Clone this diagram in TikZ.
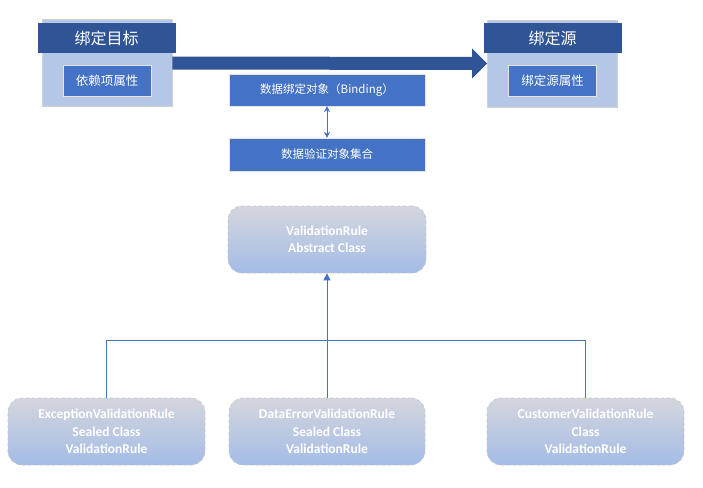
\documentclass[tikz,border=0pt]{standalone}
\usepackage{fontspec}
\setmainfont{Carlito}
\newfontfamily\cjk{Noto Sans CJK SC}
\usetikzlibrary{arrows.meta,positioning,calc}
\definecolor{hdrblue}{HTML}{2F5597}
\definecolor{boxblue}{HTML}{4472C4}
\definecolor{paleblue}{HTML}{B4C7E7}
\definecolor{rulegray}{HTML}{D4D6DD}
\definecolor{ruleblue}{HTML}{A4BCE7}

\begin{document}
\begin{tikzpicture}[x=1pt,y=-1pt,
  outer/.style={draw=black!18,line width=0.8pt,fill=paleblue,inner sep=0pt,
                minimum width=130pt,minimum height=87pt},
  hdr/.style={fill=hdrblue,text=white,inner sep=0pt,
              font=\cjk\fontsize{16}{18}\selectfont,
              minimum width=138pt,minimum height=30pt},
  inbox/.style={fill=boxblue,draw=black!10,text=white,inner sep=0pt,
                font=\cjk\fontsize{12.5}{14}\selectfont,
                minimum width=88pt,minimum height=31pt},
  objbox/.style={fill=boxblue,draw=black!10,text=white,inner sep=0pt,
                 font=\cjk\fontsize{11.5}{14}\selectfont,
                 minimum width=196pt,minimum height=32pt},
  rule/.style={draw=black!22,dashed,line width=0.7pt,rounded corners=14pt,
               top color=rulegray,bottom color=ruleblue,text=white,
               font=\bfseries\fontsize{13.5}{17.5}\selectfont,align=center,
               inner sep=0pt,minimum width=197pt,minimum height=67pt},
  conn/.style={draw=boxblue,line width=1pt},
  bigarrow/.style={hdrblue,line width=13pt,
                   -{Triangle[length=15pt,width=29pt]}}]
\useasboundingbox (0,0) rectangle (703,487);

% binding target and source
\node[outer] (tgt) at (107,63) {};
\node[hdr]   (tgthdr) at (106.5,38) {绑定目标};
\node[inbox] (tgtprop) at (107,80.5) {依赖项属性};
\node[outer] (src) at (552.5,63.5) {};
\node[hdr]   (srchdr) at (552.5,38) {绑定源};
\node[inbox] (srcprop) at (552.5,80.5) {绑定源属性};
\draw[bigarrow] (tgt.east) -- (src.west);

% binding object
\node[objbox] (bind) at (327,90) {数据绑定对象（Binding）};
\node[objbox,minimum height=33pt] (valset) at (327,154.5) {数据验证对象集合};
\draw[conn,{Stealth[length=6pt,width=6pt]}-{Stealth[length=6pt,width=6pt]}]
  (bind.south) -- (valset.north);

% rule hierarchy
\node[rule,minimum width=198pt] (vrule) at (327,239.5) {ValidationRule\\Abstract Class};
\node[rule] (excrule)  at (106.5,431.5) {ExceptionValidationRule\\Sealed Class\\ValidationRule};
\node[rule,minimum width=196pt] (errrule) at (327,431.5) {DataErrorValidationRule\\Sealed Class\\ValidationRule};
\node[rule] (custrule) at (585.5,431.5) {CustomerValidationRule\\Class\\ValidationRule};
\coordinate (junc) at (327,340);
\draw[conn] (excrule.north) |- (junc);
\draw[conn] (custrule.north) |- (junc);
\draw[conn,-{Triangle[length=7pt,width=7pt]}] (errrule.north) -- (vrule.south);
\end{tikzpicture}
\end{document}
